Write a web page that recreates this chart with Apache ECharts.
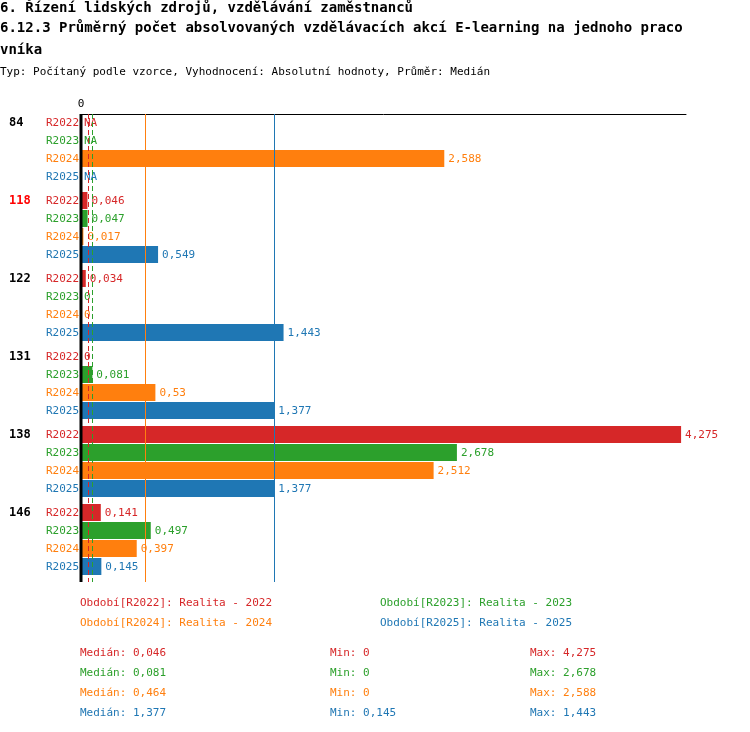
<!DOCTYPE html>
<html><head><meta charset="utf-8">
<script src="https://cdn.jsdelivr.net/npm/echarts@6/dist/echarts.min.js"></script>
<style>html,body{margin:0;background:#fff}#c{width:750px;height:732px}</style>
</head><body><div id="c"></div>
<script>
// ──── data ────
const groups = ['84', '118', '122', '131', '138', '146'];
const periods = ['R2022', 'R2023', 'R2024', 'R2025'];
const colors = ['#d62728', '#2ca02c', '#ff7f0e', '#1f77b4'];
const r2022 = [null, 0.046, 0.034, 0, 4.275, 0.141];
const r2023 = [null, 0.047, 0, 0.081, 2.678, 0.497];
const r2024 = [2.588, 0.017, 0, 0.53, 2.512, 0.397];
const r2025 = [null, 0.549, 1.443, 1.377, 1.377, 0.145];
const medians = [0.046, 0.081, 0.464, 1.377];
const mins = [0, 0, 0, 0.145];
const maxs = [4.275, 2.678, 2.588, 1.443];
const legendNames = ['Období[R2022]: Realita - 2022', 'Období[R2023]: Realita - 2023',
                     'Období[R2024]: Realita - 2024', 'Období[R2025]: Realita - 2025'];

const FONT = 'DejaVu Sans Mono';
const fmt = v => v === null ? 'NA' : String(v).replace('.', ',');
const rowY = (g, r) => g * 78 + r * 18 + 9;

const series = [r2022, r2023, r2024, r2025];
const rows = [];
groups.forEach((g, gi) => series.forEach((s, si) => rows.push([gi, si, s[gi]])));

const chart = echarts.init(document.getElementById('c'));

const graphic = [
    { type: 'text', left: 0, top: 1, style: { text: '6. Řízení lidských zdrojů, vzdělávání zaměstnanců', font: 'bold 14px ' + FONT, fill: '#000' } },
    { type: 'text', left: 0, top: 21, style: { text: '6.12.3 Průměrný počet absolvovaných vzdělávacích akcí E-learning na jednoho praco', font: 'bold 14px ' + FONT, fill: '#000' } },
    { type: 'text', left: 0, top: 43, style: { text: 'vníka', font: 'bold 14px ' + FONT, fill: '#000' } },
    { type: 'text', left: 0, top: 67, style: { text: 'Typ: Počítaný podle vzorce, Vyhodnocení: Absolutní hodnoty, Průměr: Medián', font: '11px ' + FONT, fill: '#000' } },
];
legendNames.forEach((n, i) => {
    graphic.push({ type: 'text', left: i % 2 ? 380 : 80, top: 598 + Math.floor(i / 2) * 20,
        style: { text: n, font: '11px ' + FONT, fill: colors[i] } });
});
periods.forEach((p, i) => {
    const y = 648 + i * 20;
    graphic.push({ type: 'text', left: 80, top: y, style: { text: 'Medián: ' + fmt(medians[i]), font: '11px ' + FONT, fill: colors[i] } });
    graphic.push({ type: 'text', left: 330, top: y, style: { text: 'Min: ' + fmt(mins[i]), font: '11px ' + FONT, fill: colors[i] } });
    graphic.push({ type: 'text', left: 530, top: y, style: { text: 'Max: ' + fmt(maxs[i]), font: '11px ' + FONT, fill: colors[i] } });
});

chart.setOption({
    animation: false,
    textStyle: { fontFamily: FONT },
    grid: { left: 81, right: 64, top: 114, height: 468 },
    xAxis: {
        type: 'value', position: 'top', min: 0, max: 4.31,
        axisLine: { show: true, lineStyle: { color: '#000' } },
        axisTick: { show: false }, splitLine: { show: false },
        axisLabel: { formatter: v => v === 0 ? '0' : '', color: '#000', fontSize: 11, margin: 4, fontFamily: FONT },
    },
    yAxis: { type: 'value', inverse: true, min: 0, max: 468, show: false },
    graphic,
    series: [{
        type: 'custom',
        data: rows,
        encode: { x: 2, y: 1 },
        renderItem(params, api) {
            const gi = api.value(0), si = api.value(1);
            const raw = rows[params.dataIndex][2];
            const v = raw === null ? 0 : raw;
            const y = rowY(gi, si);
            const p0 = api.coord([0, y]);
            const p1 = api.coord([v, y]);
            const children = [];
            if (v > 0) children.push({ type: 'rect', shape: { x: p0[0], y: p0[1] - 9, width: p1[0] - p0[0], height: 17 }, style: { fill: colors[si] } });
            children.push({ type: 'text', x: p1[0] + (v > 0 ? 4 : 3), y: p0[1], style: { text: fmt(raw), font: '11px ' + FONT, fill: colors[si], verticalAlign: 'middle' } });
            children.push({ type: 'text', x: p0[0] - 2, y: p0[1], style: { text: periods[si], font: '11px ' + FONT, fill: colors[si], align: 'right', verticalAlign: 'middle' } });
            if (si === 0) children.push({ type: 'text', x: 9, y: p0[1], style: { text: groups[gi], font: 'bold 12px ' + FONT, fill: gi === 1 ? '#ff0000' : '#000', verticalAlign: 'middle' } });
            return { type: 'group', children };
        },
        markLine: {
            silent: true, symbol: 'none', label: { show: false }, z: 10,
            data: medians.map((m, i) => ({ xAxis: m, lineStyle: { color: colors[i], width: 1, type: i < 2 ? [5, 3] : 'solid' } })),
        },
        z: 2,
    }, {
        type: 'custom', data: [[0]], z: 11, silent: true,
        renderItem(params, api) {
            const a = api.coord([0, 0]), b = api.coord([0, 468]);
            return { type: 'line', shape: { x1: a[0], y1: a[1], x2: b[0], y2: b[1] }, style: { stroke: '#000', lineWidth: 3 } };
        },
    }],
});
</script></body></html>
